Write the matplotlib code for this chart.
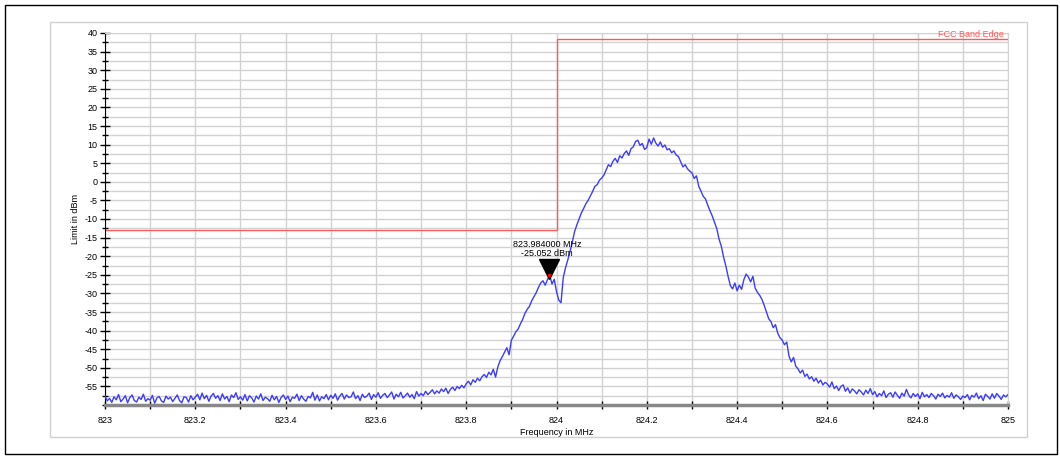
import numpy as np
import matplotlib
matplotlib.use("Agg")
import matplotlib.pyplot as plt
from matplotlib.ticker import MultipleLocator
from matplotlib.patches import Rectangle

plt.rcParams["font.family"] = ["Liberation Sans", "DejaVu Sans"]
plt.rcParams["axes.unicode_minus"] = False

# sweep: 823 to 825 MHz, 401 points, levels (dBm)
freq_start = 823.0
freq_stop = 825.0
level = [
    -57.6, -58.9, -58.2, -59.3, -57.8, -58.6, -57.2, -59.1, -58.4, -57.5, -59.4, -58.0, -57.3, -58.8, -59.2, -57.9, -58.5, -57.1, -59.0, -58.3,
    -58.7, -57.4, -59.5, -58.1, -57.7, -58.9, -59.3, -57.6, -58.4, -57.9, -59.1, -58.2, -57.3, -58.8, -59.4, -57.8, -58.0, -59.2, -57.5, -58.6,
    -57.9, -57.1, -58.6, -56.8, -58.3, -57.4, -59.0, -57.6, -56.9, -58.2, -57.5, -58.8, -57.0, -58.4, -57.7, -59.1, -57.3, -58.0, -56.7, -58.5,
    -57.8, -58.7, -57.2, -58.9, -57.5, -58.1, -59.2, -57.6, -58.4, -57.0, -58.8, -57.9, -58.3, -59.0, -57.4, -58.6, -57.7, -59.3, -58.0, -57.3,
    -58.5, -57.6, -59.1, -57.9, -58.2, -57.1, -58.8, -57.5, -58.4, -59.0, -57.7, -58.1, -56.6, -58.7, -57.3, -58.9, -57.8, -58.3, -57.2, -58.6,
    -57.4, -58.2, -57.0, -58.7, -57.6, -56.9, -58.4, -57.3, -58.0, -57.8, -56.5, -58.3, -57.5, -58.8, -57.1, -58.0, -57.6, -56.8, -58.5, -57.2,
    -57.9, -56.7, -58.2, -57.4, -56.9, -58.0, -57.3, -56.5, -58.4, -57.1, -57.8, -56.6, -58.1, -57.5, -56.8, -57.9, -57.2, -58.3, -56.4, -57.6,
    -56.9, -57.5, -56.3, -57.2, -56.6, -55.9, -57.0, -56.2, -56.8, -55.7, -56.4, -55.5, -56.9, -55.8, -55.2, -56.1, -55.0, -55.6, -54.7, -55.4,
    -54.3, -53.6, -54.6, -53.2, -53.9, -52.8, -53.5, -52.4, -51.8, -52.6, -51.2, -51.9, -50.4, -52.5, -49.8, -48.1, -47.0, -45.8, -44.6, -46.5,
    -42.6, -41.5, -40.3, -39.6, -38.2, -37.0, -35.4, -34.3, -33.5, -32.0, -30.9, -29.8, -28.4, -27.2, -26.6, -27.8, -26.3, -25.1, -27.5, -26.2,
    -29.5, -31.8, -32.5, -25.7, -23.1, -21.0, -18.7, -16.2, -13.4, -11.6, -10.0, -8.4, -7.2, -5.9, -5.0, -3.8, -2.6, -1.2, -0.8, 0.4,
    1.0, 1.8, 3.2, 4.6, 4.1, 5.5, 6.3, 5.2, 7.0, 6.4, 7.6, 8.3, 7.1, 8.9, 9.4, 10.8, 11.2, 9.8, 10.3, 8.7,
    9.2, 11.5, 10.1, 11.8, 10.4, 9.6, 10.7, 9.3, 9.9, 8.6, 8.9, 7.8, 8.3, 7.2, 6.8, 5.4, 4.0, 4.6, 3.5, 2.9,
    2.4, 0.9, 1.6, -1.2, -2.5, -3.9, -4.6, -6.3, -7.8, -9.2, -10.9, -12.6, -15.4, -17.3, -20.2, -22.6, -25.4, -27.9, -28.8, -27.2,
    -29.3, -27.8, -28.9, -26.3, -24.8, -25.6, -26.9, -25.4, -28.6, -29.7, -30.5, -31.6, -33.2, -35.0, -36.8, -37.6, -39.2, -38.4, -40.7, -41.9,
    -42.6, -43.8, -43.1, -46.9, -48.4, -47.2, -49.6, -50.3, -51.4, -50.6, -52.3, -51.7, -53.0, -52.4, -53.6, -52.8, -54.1, -53.3, -54.6, -53.9,
    -54.4, -55.2, -53.8, -55.6, -54.9, -56.1, -55.0, -54.6, -56.3, -55.4, -56.8, -55.7, -56.2, -57.0, -55.9, -56.5, -57.3, -56.0, -56.9, -55.6,
    -57.2, -56.4, -57.8, -56.9, -57.5, -56.2, -58.0, -57.1, -56.7, -57.9, -56.5, -57.4, -58.2, -56.8, -57.6, -55.8, -57.3, -58.1, -56.9, -57.7,
    -57.0, -58.3, -56.6, -57.8, -57.2, -58.0, -56.9, -57.5, -58.4, -57.1, -57.7, -56.8, -58.1, -57.4, -57.9, -56.7, -58.2, -57.3, -57.8, -58.5,
    -57.6, -58.0, -57.2, -58.6, -57.4, -57.9, -56.8, -58.3, -57.5, -58.8, -57.1, -57.7, -58.4, -57.0, -58.2, -56.9, -57.6, -58.5, -57.3, -57.8,
    -57.2,
]
freq = np.linspace(freq_start, freq_stop, len(level))

# FCC limit line (step)
limit_freq = [823.0, 824.0, 824.0, 825.0]
limit_level = [-13.0, -13.0, 38.5, 38.5]

# marker
marker_freq = 823.984
marker_level = -25.052

fig = plt.figure(figsize=(10.6, 4.57), dpi=100)
ax = fig.add_axes([105 / 1060, 1 - 405 / 457, 903 / 1060, 372 / 457])

# frames around the chart
fig.patches.append(Rectangle((50 / 1060, 1 - 437 / 457), 977 / 1060, 415 / 457,
                             transform=fig.transFigure, fill=False,
                             edgecolor="#d0d0d0", lw=1))
fig.patches.append(Rectangle((5 / 1060, 3 / 457), 1052 / 1060, 449 / 457,
                             transform=fig.transFigure, fill=False,
                             edgecolor="black", lw=1))

ax.plot(freq, level, color="#3c3cff", lw=1, zorder=3)
ax.plot(limit_freq, limit_level, color="#ff5a5a", lw=1, zorder=2)
ax.text(824.99, 38.5, "FCC Band Edge", color="#ff5a5a", fontsize=6.5,
        ha="right", va="bottom", clip_on=False)

# marker triangle and readout
ax.plot(marker_freq, marker_level + 1.7, marker="v", color="black",
        markersize=14, zorder=4)
ax.plot(marker_freq, marker_level, marker="o", color="red", markersize=1.5, zorder=5)
ax.text(marker_freq - 0.005, -20.6, "823.984000 MHz\n-25.052 dBm", fontsize=6.5,
        ha="center", va="bottom", linespacing=1.1)

ax.set_xlim(823, 825)
ax.set_ylim(-60, 40)
ax.xaxis.set_major_locator(MultipleLocator(0.2))
ax.xaxis.set_minor_locator(MultipleLocator(0.1))
ax.yaxis.set_major_locator(MultipleLocator(5))
ax.yaxis.set_minor_locator(MultipleLocator(2.5))
ax.set_yticks(np.arange(-55, 41, 5))
ax.set_xticklabels([f"{v:g}" for v in ax.get_xticks()])

ax.grid(which="both", color="#d2d2d2", lw=1)
ax.set_axisbelow(True)

ax.tick_params(axis="both", which="both", direction="inout", colors="black",
               labelsize=6.5, width=1)
ax.tick_params(axis="y", which="major", length=7, pad=2)
ax.tick_params(axis="y", which="minor", length=5)
ax.tick_params(axis="x", which="both", length=6, pad=5)

ax.spines["bottom"].set_color("#888888")
ax.spines["bottom"].set_linewidth(2.5)
ax.spines["left"].set_color("black")
ax.spines["top"].set_color("#d2d2d2")
ax.spines["right"].set_color("#d2d2d2")

ax.set_xlabel("Frequency in MHz", fontsize=6.5, labelpad=2)
ax.set_ylabel("Limit in dBm", fontsize=6.5, labelpad=3)

fig.savefig("out.png", dpi=100)
